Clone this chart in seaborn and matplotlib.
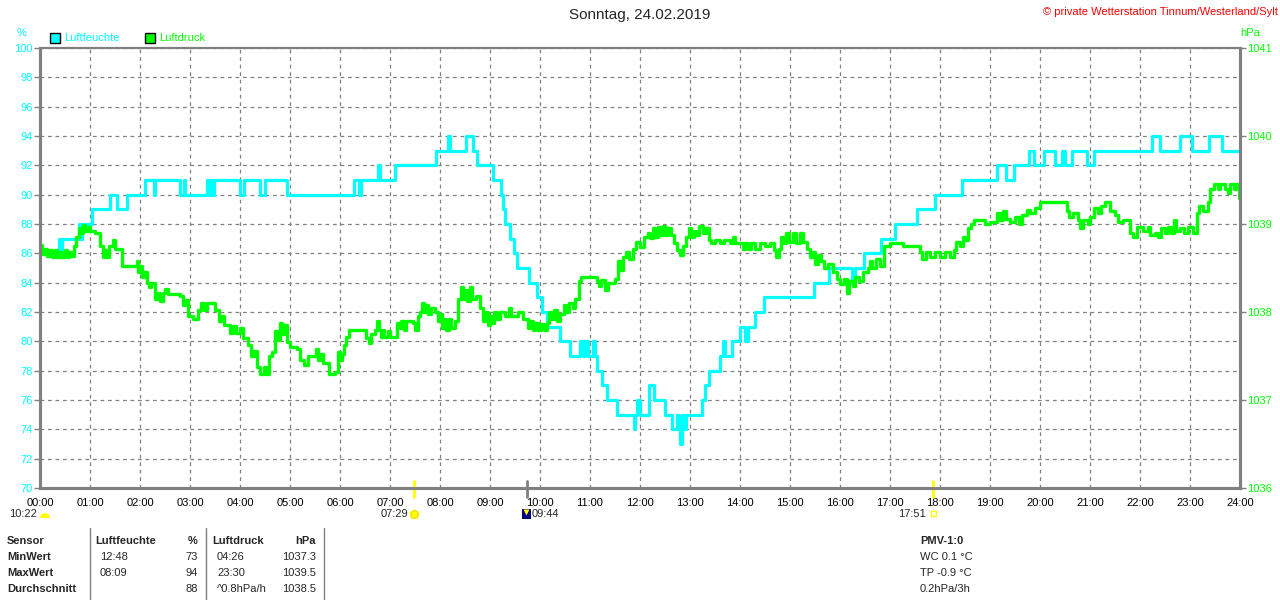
import numpy as np
import pandas as pd
import matplotlib
matplotlib.use("Agg")
import matplotlib.pyplot as plt
from matplotlib.patches import Rectangle, Wedge
import seaborn as sns

# humidity (%), step values: hour of day, value from that moment on
hum_hours = [0.0, 0.37, 0.4, 0.43, 0.77, 0.8, 0.83, 1.03, 1.4, 1.53, 1.73, 2.1, 2.27, 2.3,
             2.8, 2.87, 2.9, 3.33, 3.37, 3.4, 3.43, 3.47, 4.0, 4.07, 4.4, 4.5, 4.93, 6.27,
             6.37, 6.42, 6.75, 6.8, 7.1, 7.92, 8.15, 8.19, 8.53, 8.65, 8.73, 9.05, 9.21,
             9.25, 9.3, 9.4, 9.47, 9.53, 9.77, 9.93, 10.03, 10.13, 10.4, 10.6, 10.8, 10.85,
             10.9, 10.95, 11.05, 11.1, 11.13, 11.23, 11.33, 11.53, 11.87, 11.9, 11.93, 12.0,
             12.17, 12.27, 12.5, 12.63, 12.73, 12.78, 12.8, 12.84, 12.88, 12.92, 12.97, 13.23,
             13.3, 13.37, 13.6, 13.65, 13.7, 13.83, 14.0, 14.1, 14.15, 14.3, 14.47, 15.47,
             15.77, 16.23, 16.3, 16.47, 16.83, 17.1, 17.53, 17.9, 18.43, 19.13, 19.33, 19.47,
             19.77, 19.87, 20.07, 20.3, 20.43, 20.5, 20.63, 20.93, 21.07, 22.23, 22.4, 22.8,
             23.03, 23.37, 23.63, 24.0]
hum_values = [86, 87, 86, 87, 88, 87, 88, 89, 90, 89, 90, 91, 90, 91,
              90, 91, 90, 91, 90, 91, 90, 91, 90, 91, 90, 91, 90, 91,
              90, 91, 92, 91, 92, 93, 94, 93, 94, 93, 92, 91, 90,
              89, 88, 87, 86, 85, 84, 83, 82, 81, 80, 79, 80, 79,
              80, 79, 80, 79, 78, 77, 76, 75, 74, 75, 76, 75,
              77, 76, 75, 74, 75, 74, 73, 75, 74, 75, 75, 76,
              77, 78, 79, 80, 79, 80, 81, 80, 81, 82, 83, 84,
              85, 84, 85, 86, 87, 88, 89, 90, 91, 92, 91, 92,
              93, 92, 93, 92, 93, 92, 93, 92, 93, 94, 93, 94,
              93, 94, 93, 93]

# air pressure (hPa), step values
pres_hours = [
    0.00, 0.04, 0.10, 0.13, 0.20, 0.24, 0.30, 0.34, 0.40, 0.44, 0.50, 0.53, 0.58, 0.62,
    0.67, 0.72, 0.77, 0.82, 0.86, 0.90, 0.95, 1.00, 1.10, 1.20, 1.25, 1.28, 1.32, 1.38,
    1.45, 1.50, 1.63, 1.93, 1.96, 2.00, 2.04, 2.08, 2.13, 2.18, 2.22, 2.30, 2.35, 2.40,
    2.45, 2.50, 2.56, 2.80, 2.85, 2.90, 2.95, 3.05, 3.15, 3.22, 3.28, 3.34, 3.50, 3.58,
    3.62, 3.68, 3.80, 3.86, 3.92, 4.00, 4.06, 4.15, 4.22, 4.28, 4.33, 4.40, 4.48, 4.52,
    4.58, 4.64, 4.70, 4.75, 4.80, 4.84, 4.88, 4.93, 5.00, 5.13, 5.20, 5.27, 5.35, 5.47,
    5.52, 5.56, 5.60, 5.65, 5.77, 5.90, 5.95, 6.00, 6.03, 6.08, 6.12, 6.17, 6.45, 6.52,
    6.57, 6.62, 6.70, 6.73, 6.77, 6.82, 6.85, 6.88, 6.95, 7.00, 7.13, 7.18, 7.22, 7.28,
    7.32, 7.45, 7.50, 7.55, 7.60, 7.64, 7.68, 7.72, 7.76, 7.82, 7.90, 7.95, 8.00, 8.04,
    8.08, 8.12, 8.18, 8.22, 8.30, 8.37, 8.42, 8.46, 8.50, 8.54, 8.60, 8.64, 8.72, 8.80,
    8.87, 8.92, 8.96, 9.00, 9.04, 9.08, 9.13, 9.20, 9.30, 9.38, 9.42, 9.55, 9.65, 9.75,
    9.80, 9.85, 9.90, 9.95, 10.02, 10.08, 10.13, 10.18, 10.22, 10.28, 10.33, 10.40, 10.47,
    10.52, 10.58, 10.65, 10.70, 10.77, 10.82, 11.13, 11.18, 11.22, 11.30, 11.35, 11.50,
    11.55, 11.60, 11.65, 11.72, 11.78, 11.85, 11.92, 12.00, 12.07, 12.15, 12.20, 12.25,
    12.30, 12.35, 12.40, 12.45, 12.50, 12.55, 12.62, 12.67, 12.73, 12.80, 12.85, 12.92,
    12.97, 13.02, 13.08, 13.12, 13.18, 13.25, 13.32, 13.38, 13.42, 13.50, 13.60, 13.68,
    13.80, 13.85, 13.90, 14.05, 14.10, 14.15, 14.22, 14.30, 14.40, 14.50, 14.60, 14.67,
    14.72, 14.78, 14.82, 14.88, 14.92, 14.98, 15.05, 15.12, 15.20, 15.26, 15.33, 15.40,
    15.45, 15.50, 15.55, 15.62, 15.68, 15.75, 15.85, 15.93, 16.00, 16.08, 16.13, 16.18,
    16.25, 16.30, 16.38, 16.45, 16.55, 16.60, 16.65, 16.72, 16.80, 16.87, 17.00, 17.25,
    17.60, 17.65, 17.72, 17.80, 17.90, 18.00, 18.10, 18.20, 18.28, 18.33, 18.40, 18.45,
    18.50, 18.55, 18.62, 18.67, 18.90, 19.00, 19.13, 19.20, 19.25, 19.33, 19.40, 19.50,
    19.58, 19.65, 19.73, 19.80, 19.90, 20.00, 20.53, 20.58, 20.65, 20.75, 20.80, 20.86,
    20.95, 21.00, 21.07, 21.15, 21.22, 21.30, 21.40, 21.50, 21.55, 21.65, 21.80, 21.85,
    21.93, 22.05, 22.15, 22.20, 22.30, 22.35, 22.42, 22.50, 22.55, 22.62, 22.68, 22.72,
    22.80, 22.88, 22.95, 23.05, 23.13, 23.18, 23.25, 23.35, 23.40, 23.48, 23.55, 23.60,
    23.70, 23.75, 23.80, 23.88, 23.92, 23.97, 24.00]
pres_values = [
    1038.76, 1038.66, 1038.72, 1038.64, 1038.70, 1038.62, 1038.70, 1038.62, 1038.68, 1038.62,
    1038.70, 1038.62, 1038.68, 1038.64, 1038.75, 1038.85, 1038.95, 1038.90, 1038.99, 1038.92,
    1038.97, 1038.92, 1038.90, 1038.75, 1038.62, 1038.70, 1038.62, 1038.75, 1038.82, 1038.72,
    1038.52, 1038.58, 1038.45, 1038.52, 1038.40, 1038.45, 1038.33, 1038.28, 1038.33, 1038.15,
    1038.22, 1038.12, 1038.22, 1038.26, 1038.21, 1038.18, 1038.08, 1038.14, 1037.95, 1037.92,
    1038.02, 1038.10, 1038.02, 1038.10, 1038.02, 1037.90, 1037.96, 1037.85, 1037.76, 1037.84,
    1037.76, 1037.82, 1037.70, 1037.62, 1037.50, 1037.56, 1037.38, 1037.30, 1037.38, 1037.30,
    1037.50, 1037.55, 1037.78, 1037.68, 1037.88, 1037.75, 1037.85, 1037.66, 1037.60, 1037.58,
    1037.45, 1037.40, 1037.50, 1037.50, 1037.58, 1037.46, 1037.52, 1037.42, 1037.30, 1037.32,
    1037.55, 1037.45, 1037.52, 1037.62, 1037.72, 1037.80, 1037.80, 1037.70, 1037.65, 1037.75,
    1037.80, 1037.90, 1037.80, 1037.72, 1037.80, 1037.72, 1037.78, 1037.72, 1037.88, 1037.82,
    1037.90, 1037.80, 1037.90, 1037.88, 1037.80, 1037.95, 1038.00, 1038.10, 1038.00, 1038.08,
    1037.98, 1038.04, 1038.00, 1037.90, 1037.98, 1037.82, 1037.92, 1037.80, 1037.92, 1037.82,
    1037.90, 1038.15, 1038.28, 1038.15, 1038.25, 1038.12, 1038.28, 1038.15, 1038.18, 1038.05,
    1037.90, 1038.00, 1037.85, 1037.95, 1037.88, 1038.00, 1037.92, 1038.00, 1037.95, 1038.05,
    1037.95, 1038.00, 1037.92, 1037.82, 1037.90, 1037.80, 1037.88, 1037.80, 1037.86, 1037.80,
    1037.88, 1038.00, 1037.92, 1038.02, 1037.90, 1037.98, 1038.08, 1038.00, 1038.10, 1038.05,
    1038.15, 1038.35, 1038.40, 1038.35, 1038.30, 1038.36, 1038.25, 1038.33, 1038.38, 1038.58,
    1038.48, 1038.62, 1038.68, 1038.60, 1038.72, 1038.80, 1038.74, 1038.85, 1038.90, 1038.84,
    1038.95, 1038.85, 1038.97, 1038.88, 1038.98, 1038.88, 1038.95, 1038.88, 1038.78, 1038.70,
    1038.65, 1038.75, 1038.85, 1038.95, 1038.85, 1038.92, 1038.88, 1038.98, 1038.90, 1038.95,
    1038.82, 1038.78, 1038.82, 1038.78, 1038.82, 1038.78, 1038.85, 1038.78, 1038.72, 1038.78,
    1038.72, 1038.78, 1038.72, 1038.78, 1038.75, 1038.78, 1038.70, 1038.62, 1038.72, 1038.85,
    1038.78, 1038.90, 1038.80, 1038.90, 1038.78, 1038.90, 1038.80, 1038.72, 1038.62, 1038.68,
    1038.55, 1038.65, 1038.58, 1038.50, 1038.55, 1038.45, 1038.38, 1038.32, 1038.38, 1038.22,
    1038.35, 1038.30, 1038.40, 1038.35, 1038.45, 1038.50, 1038.58, 1038.50, 1038.60, 1038.52,
    1038.75, 1038.78, 1038.75, 1038.68, 1038.60, 1038.68, 1038.62, 1038.68, 1038.62, 1038.68,
    1038.62, 1038.70, 1038.80, 1038.75, 1038.85, 1038.82, 1038.95, 1039.00, 1039.05, 1039.00,
    1039.02, 1039.12, 1039.05, 1039.15, 1039.06, 1039.02, 1039.08, 1039.00, 1039.10, 1039.16,
    1039.12, 1039.18, 1039.25, 1039.15, 1039.08, 1039.12, 1039.05, 1038.95, 1039.05, 1039.00,
    1039.08, 1039.18, 1039.12, 1039.20, 1039.25, 1039.15, 1039.10, 1039.02, 1039.04, 1038.90,
    1038.85, 1038.97, 1038.92, 1038.97, 1038.87, 1038.90, 1038.85, 1038.95, 1038.90, 1038.97,
    1038.90, 1039.05, 1038.92, 1038.96, 1038.90, 1038.97, 1038.90, 1039.12, 1039.20, 1039.15,
    1039.25, 1039.40, 1039.46, 1039.40, 1039.46, 1039.40, 1039.35, 1039.46, 1039.40, 1039.46,
    1039.30, 1039.30]

hour_labels = ["%02d:00" % h for h in range(25)]
hum_ticks = list(range(70, 101, 2))
pres_ticks = [1036, 1037, 1038, 1039, 1040, 1041]

# sun / moon events under the time axis
event_labels = ["07:29", "09:44", "17:51"]
event_hours = [7 + 29 / 60, 9 + 44 / 60, 17 + 51 / 60]
event_colors = ["#ffff00", "#808080", "#ffff00"]

table_rows = [
    ["Sensor", "Luftfeuchte", "%", "Luftdruck", "hPa"],
    ["MinWert", "12:48", "73", "04:26", "1037.3"],
    ["MaxWert", "08:09", "94", "23:30", "1039.5"],
    ["Durchschnitt", "", "88", "^0.8hPa/h", "1038.5"],
]
pmv_lines = ["PMV-1:0", "WC 0.1 °C", "TP -0.9 °C", "0.2hPa/3h"]

CYAN = "#00ffff"
GREEN = "#00ff00"
GRAY = "#808080"

sns.set_style("white")
plt.rcParams["font.family"] = ["Liberation Sans", "DejaVu Sans"]
plt.rcParams["font.size"] = 8

fig = plt.figure(figsize=(12.8, 6), dpi=100)
ax = fig.add_axes([40 / 1280, 1 - 488 / 600, 1200 / 1280, 440 / 600])
ax2 = ax.twinx()

hum = pd.DataFrame({"hour": hum_hours, "value": hum_values})
pres = pd.DataFrame({"hour": pres_hours, "value": pres_values})

sns.lineplot(data=hum, x="hour", y="value", ax=ax, color=CYAN, lw=2.3,
             drawstyle="steps-post", estimator=None, sort=False)
sns.lineplot(data=pres, x="hour", y="value", ax=ax2, color=GREEN, lw=2.4,
             drawstyle="steps-post", estimator=None, sort=False)

ax.set_xlim(0, 24)
ax.set_ylim(70, 100)
ax2.set_ylim(1036, 1041)
ax.set_xticks(range(25))
ax.set_xticklabels(hour_labels)
ax.set_yticks(hum_ticks)
ax2.set_yticks(pres_ticks)
ax.set_xlabel("")
ax.set_ylabel("")
ax2.set_ylabel("")

ax.grid(True, color=GRAY, linestyle=(0, (3, 3)), linewidth=0.9)
ax2.grid(False)
ax.set_axisbelow(True)

ax.tick_params(axis="x", length=0, pad=7, labelcolor="black", labelsize=8)
ax.tick_params(axis="y", length=4, width=1, color=GRAY, labelcolor=CYAN, labelsize=8, pad=1)
ax2.tick_params(axis="y", length=4, width=1, color=GRAY, labelcolor=GREEN, labelsize=8, pad=1)

for a in (ax, ax2):
    for side, sp in a.spines.items():
        sp.set_visible(True)
        sp.set_color(GRAY)
        sp.set_linewidth(2.2 if side != "top" else 1.5)

# event markers under the time axis
for h, c in zip(event_hours, event_colors):
    ax.plot([h, h], [70.48, 69.38], color=c, lw=2, clip_on=False, zorder=5)

over = fig.add_axes([0, 0, 1, 1], zorder=-1)
over.set_xlim(0, 1280)
over.set_ylim(600, 0)
over.axis("off")

def px(h):
    return 40 + h * 50

over.text(640, 15, "Sonntag, 24.02.2019", ha="center", va="center", fontsize=11)
over.text(1278, 12, "© private Wetterstation Tinnum/Westerland/Sylt", ha="right",
          va="center", color="red", fontsize=8)
over.text(22, 33, "%", ha="center", va="center", color=CYAN, fontsize=8)
over.text(1250, 33, "hPa", ha="center", va="center", color=GREEN, fontsize=8)

over.add_patch(Rectangle((50, 33), 10, 10, facecolor=CYAN, edgecolor="black", lw=1))
over.text(64, 38, "Luftfeuchte", va="center", color=CYAN, fontsize=8)
over.add_patch(Rectangle((145, 33), 10, 10, facecolor=GREEN, edgecolor="black", lw=1))
over.text(159, 38, "Luftdruck", va="center", color=GREEN, fontsize=8)

# moon / sun icons
over.text(37, 514, "10:22", ha="right", va="center", fontsize=8)
over.add_patch(Wedge((45, 518), 5, 180, 360, facecolor="#ffff00", edgecolor="none"))
x0 = px(event_hours[0])
over.text(x0 - 6, 514, event_labels[0], ha="right", va="center", fontsize=8)
over.plot(x0, 514, marker="*", ms=12, color="#ffffb0", mec="none")
over.plot(x0, 514, marker="o", ms=5.5, color="#ffff00", mec="#f0e000")
x1 = px(event_hours[1])
over.add_patch(Rectangle((x1 - 5, 509), 9, 10, facecolor="#000080", edgecolor="none"))
over.plot(x1 - 1, 512, marker="v", ms=4, color="#ffff00", mec="none")
over.text(x1 + 5, 514, event_labels[1], ha="left", va="center", fontsize=8)
x2 = px(event_hours[2])
over.text(x2 - 7, 514, event_labels[2], ha="right", va="center", fontsize=8)
over.add_patch(Rectangle((x2 - 2, 511), 5, 5, facecolor="none", edgecolor="#ffff00", lw=1))

# table
for xs in (90, 206, 324):
    over.plot([xs, xs], [528, 600], color=GRAY, lw=1)
row_y = [541, 557, 573, 589]
col_x = [7, 95, 198, 212, 316]
col_ha = ["left", "left", "right", "left", "right"]
for r, (y, row) in enumerate(zip(row_y, table_rows)):
    for c, (x, ha, txt) in enumerate(zip(col_x, col_ha, row)):
        bold = r == 0 or c == 0
        xx = x
        if r > 0 and c in (1, 3):
            xx = x + 5
        over.text(xx, y, txt, ha=ha, va="center", fontsize=8,
                  fontweight="bold" if bold else "normal")
for i, (y, txt) in enumerate(zip(row_y, pmv_lines)):
    over.text(920, y, txt, ha="left", va="center", fontsize=8,
              fontweight="bold" if i == 0 else "normal")

fig.savefig("out.png", dpi=100, facecolor="white")
